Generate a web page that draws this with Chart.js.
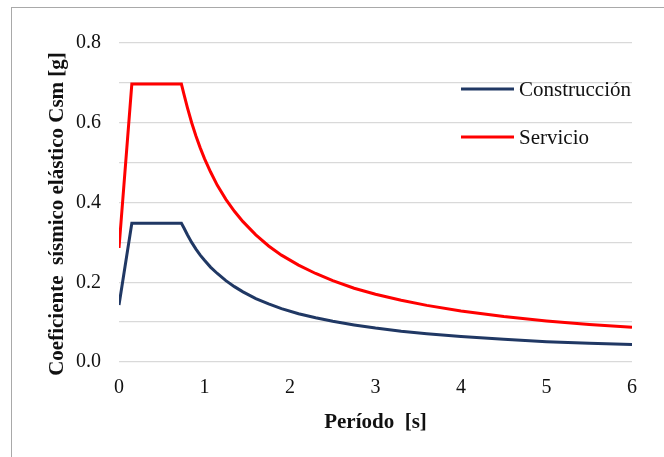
<!DOCTYPE html>
<html lang="es">
<head>
  <meta charset="UTF-8">
  <title>Espectro de respuesta - Csm</title>
  <script src="https://cdn.jsdelivr.net/npm/chart.js"></script>
  <style>
    body {
      margin: 0;
      background: #fff;
      overflow: hidden;
    }
    .frame {
      position: absolute;
      left: 11px;
      top: 7px;
      width: 700px;
      height: 500px;
      border-left: 1px solid #a9a9a9;
      border-top: 1px solid #a9a9a9;
    }
    #chart {
      position: absolute;
      left: 0;
      top: 0;
    }
  </style>
</head>
<body>
<div class="frame"></div>
<canvas id="chart" width="664" height="457"></canvas>

<script>
  // periodos T [s]
  const periods = [0, 0.15, 0.73, 0.76, 0.8, 0.85, 0.9, 0.95, 1.0, 1.07, 1.15, 1.25, 1.35, 1.45,
                   1.6, 1.75, 1.9, 2.1, 2.3, 2.5, 2.75, 3.0, 3.3, 3.6, 4.0, 4.5, 5.0, 5.5, 6.0];

  // Csm [g]
  const construccion = [0.143, 0.348, 0.348, 0.336, 0.319, 0.300, 0.283, 0.268, 0.255, 0.238,
                        0.222, 0.204, 0.189, 0.176, 0.159, 0.146, 0.134, 0.121, 0.111, 0.102,
                        0.093, 0.085, 0.077, 0.071, 0.064, 0.057, 0.051, 0.047, 0.044];
  const servicio = [0.286, 0.697, 0.697, 0.671, 0.638, 0.600, 0.567, 0.537, 0.510, 0.477,
                    0.443, 0.408, 0.378, 0.352, 0.319, 0.291, 0.268, 0.243, 0.222, 0.204,
                    0.185, 0.170, 0.155, 0.142, 0.128, 0.114, 0.103, 0.094, 0.087];

  const seriesNames = ['Construcción', 'Servicio'];
  const seriesColors = ['#203864', '#ff0000'];
  const yTitle = 'Coeficiente  sísmico elástico Csm [g]';

  const serif = '"Liberation Serif", "Times New Roman", serif';

  function toPoints(values) {
    return periods.map((t, i) => ({ x: t, y: values[i] }));
  }

  // leyenda dentro del area del grafico + titulo del eje Y
  const extras = {
    id: 'extras',
    afterDraw(chart) {
      const ctx = chart.ctx;
      ctx.save();
      ctx.font = '21px ' + serif;
      ctx.textBaseline = 'middle';
      chart.data.datasets.forEach((ds, i) => {
        const y = 89 + i * 48;
        ctx.strokeStyle = ds.borderColor;
        ctx.lineWidth = 3;
        ctx.beginPath();
        ctx.moveTo(461, y);
        ctx.lineTo(514, y);
        ctx.stroke();
        ctx.fillStyle = '#111';
        ctx.fillText(ds.label, 519, y + 1);
      });
      ctx.restore();

      ctx.save();
      ctx.translate(63, 214);
      ctx.rotate(-Math.PI / 2);
      ctx.font = 'bold 21px ' + serif;
      ctx.textAlign = 'center';
      ctx.textBaseline = 'alphabetic';
      ctx.fillStyle = '#111';
      ctx.fillText(yTitle, 0, 0);
      ctx.restore();
    }
  };

  new Chart(document.getElementById('chart'), {
    type: 'line',
    data: {
      datasets: [
        {
          label: seriesNames[0],
          data: toPoints(construccion),
          borderColor: seriesColors[0],
          borderWidth: 3,
          pointRadius: 0,
          tension: 0,
          fill: false
        },
        {
          label: seriesNames[1],
          data: toPoints(servicio),
          borderColor: seriesColors[1],
          borderWidth: 3,
          pointRadius: 0,
          tension: 0,
          fill: false
        }
      ]
    },
    options: {
      responsive: false,
      animation: false,
      layout: {
        padding: { left: 0, right: 32, top: 43, bottom: 0 }
      },
      plugins: {
        legend: { display: false },
        tooltip: { enabled: false }
      },
      scales: {
        x: {
          type: 'linear',
          min: 0,
          max: 6,
          ticks: {
            stepSize: 1,
            padding: 14,
            color: '#111',
            font: { family: serif, size: 20 }
          },
          grid: { display: false, drawTicks: false },
          border: { display: false },
          title: {
            display: true,
            text: 'Período  [s]',
            color: '#111',
            font: { family: serif, size: 21, weight: 'bold' },
            padding: { top: 0, bottom: 22 }
          },
          afterFit(scale) { scale.height = 95; }
        },
        y: {
          min: 0,
          max: 0.8,
          ticks: {
            stepSize: 0.1,
            padding: 18,
            color: '#111',
            font: { family: serif, size: 20 },
            callback: (v) => (Math.round(v * 10) % 2 === 0 ? v.toFixed(1) : '')
          },
          grid: { color: '#d9d9d9', lineWidth: 1.3, drawTicks: false },
          border: { display: false },
          afterFit(scale) { scale.width = 119; }
        }
      }
    },
    plugins: [extras]
  });
</script>
</body>
</html>
